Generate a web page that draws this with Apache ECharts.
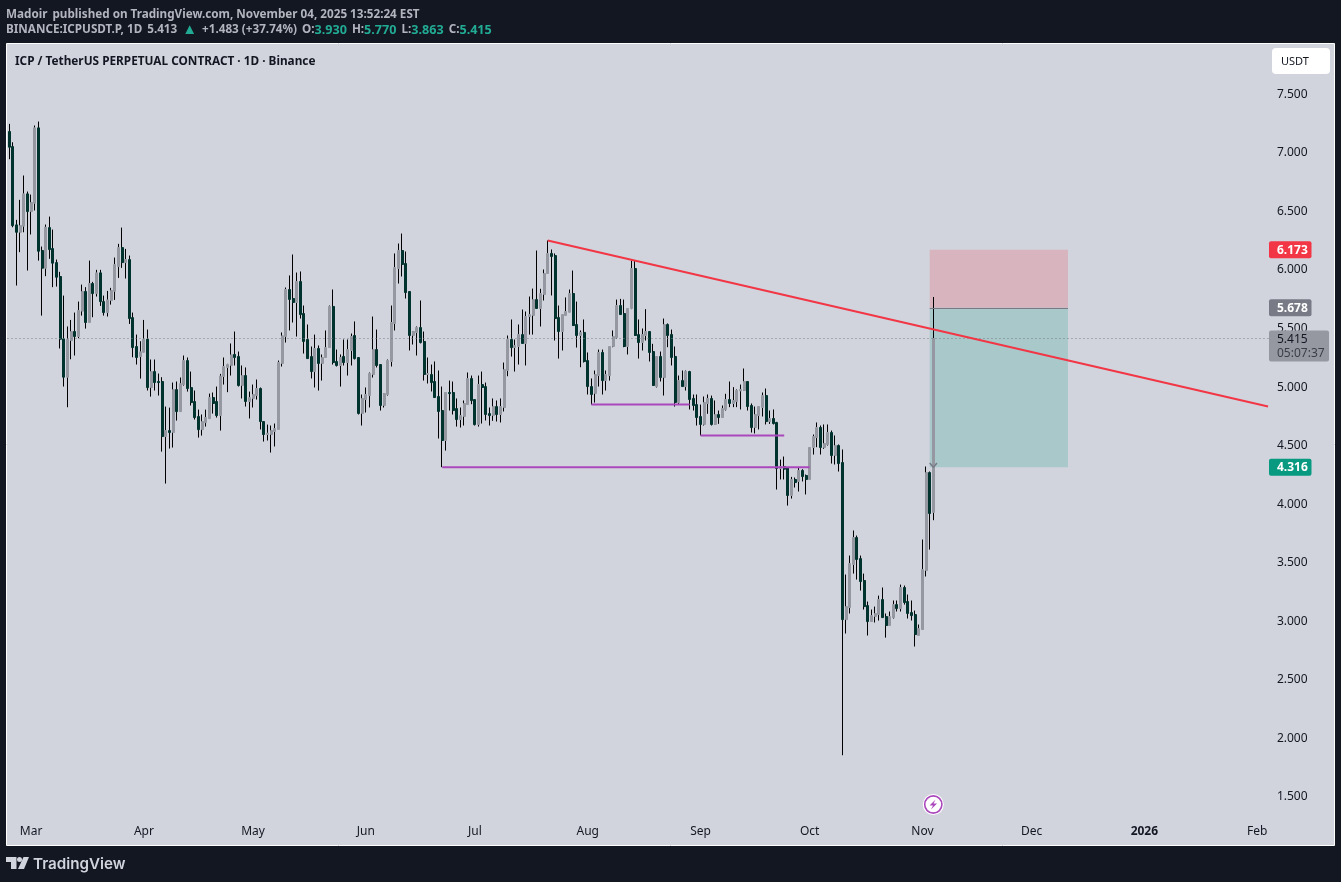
<!DOCTYPE html>
<html>
<head>
<meta charset="utf-8">
<title>ICPUSDT.P 1D</title>
<style>
    html, body { margin: 0; padding: 0; background: #131722; }
    #chart { width: 1341px; height: 882px; }
</style>
<script src="https://cdn.jsdelivr.net/npm/echarts@6/dist/echarts.min.js"></script>
</head>
<body>
<div id="chart"></div>
<script>
// daily candles, 23 Feb 2025 to 4 Nov 2025
var opens = [
    7.184,7.055,6.386,6.323,6.375,6.651,6.500,6.571,7.215,6.167,
    6.016,6.363,6.184,6.064,5.945,5.412,5.085,5.398,5.475,5.432,
    5.649,5.817,5.552,5.885,5.799,5.976,5.731,5.637,5.740,5.819,
    6.030,6.192,6.064,6.090,5.594,5.347,5.261,5.298,5.409,4.996,
    5.133,5.048,5.048,4.578,4.629,4.612,4.979,4.791,5.022,5.227,
    4.996,4.877,4.749,4.637,4.697,4.731,4.911,4.877,4.757,5.091,
    5.168,5.185,5.279,5.262,5.014,5.099,4.877,4.903,4.928,4.988,
    4.706,4.595,4.595,4.621,4.638,5.202,5.432,5.834,5.757,5.723,
    5.902,5.629,5.407,5.261,5.133,5.330,5.202,5.253,5.338,5.689,
    5.219,5.185,5.262,5.210,5.313,5.441,5.253,4.775,4.894,4.928,
    5.108,5.321,5.193,4.843,4.937,5.219,5.543,6.013,6.167,6.056,
    5.817,5.441,5.467,5.509,5.390,5.108,5.108,5.048,4.920,4.800,
    4.544,4.954,4.954,4.817,4.723,4.749,4.851,5.073,4.894,4.680,
    5.022,5.005,4.774,4.757,4.834,4.766,4.826,5.142,5.407,5.338,
    5.347,5.449,5.373,5.603,5.612,5.748,5.672,5.791,5.971,6.142,
    6.124,5.595,5.475,5.612,5.640,5.800,5.535,5.441,5.467,5.227,
    5.005,4.945,5.099,5.296,5.056,5.099,5.347,5.424,5.697,5.629,
    5.347,5.672,6.013,5.449,5.381,5.441,5.475,5.304,5.005,5.262,
    5.082,5.535,5.450,5.262,4.869,5.056,5.005,5.133,4.903,4.851,
    4.749,4.681,4.860,4.903,4.681,4.766,4.740,4.809,4.894,4.860,
    4.877,4.968,4.971,5.048,4.843,4.655,4.757,4.826,4.928,4.706,
    4.732,4.698,4.305,4.322,4.310,4.074,4.211,4.194,4.288,4.245,
    4.211,4.484,4.569,4.655,4.484,4.510,4.612,4.416,4.501,4.356,
    3.014,3.117,3.484,3.715,3.535,3.348,3.134,2.997,3.040,3.057,
    3.185,3.040,2.963,3.031,3.142,3.108,3.288,3.168,3.074,3.057,
    2.878,2.929,3.433,4.270,3.930
];
var closes = [
    7.050,6.380,6.323,6.380,6.651,6.500,6.577,7.215,6.161,6.016,
    6.366,6.175,6.059,5.939,5.409,5.085,5.409,5.475,5.432,5.654,
    5.817,5.552,5.885,5.799,5.976,5.731,5.637,5.745,5.825,6.047,
    6.192,6.064,6.090,5.586,5.338,5.253,5.301,5.409,4.996,5.133,
    5.039,5.039,4.578,4.629,4.612,4.979,4.791,5.030,5.227,4.988,
    4.868,4.740,4.637,4.706,4.740,4.911,4.860,4.757,5.094,5.176,
    5.193,5.276,5.253,5.014,5.099,4.877,4.911,4.937,4.988,4.706,
    4.595,4.606,4.629,4.646,5.210,5.438,5.834,5.749,5.723,5.902,
    5.620,5.390,5.244,5.133,5.330,5.202,5.253,5.338,5.689,5.210,
    5.185,5.253,5.210,5.321,5.432,5.244,4.775,4.903,4.937,5.116,
    5.321,5.185,4.843,4.945,5.227,5.552,6.022,6.167,6.048,5.808,
    5.441,5.475,5.509,5.381,5.108,5.116,5.039,4.911,4.792,4.544,
    4.954,4.945,4.800,4.723,4.757,4.860,5.073,4.885,4.680,5.022,
    4.997,4.766,4.757,4.834,4.766,4.834,5.150,5.407,5.338,5.355,
    5.449,5.373,5.603,5.620,5.748,5.672,5.800,5.971,6.142,6.116,
    5.586,5.475,5.620,5.646,5.800,5.526,5.441,5.467,5.219,5.005,
    4.937,5.108,5.296,5.056,5.108,5.347,5.432,5.697,5.620,5.347,
    5.672,6.013,5.441,5.381,5.449,5.475,5.296,5.014,5.262,5.082,
    5.535,5.441,5.253,4.869,5.056,5.005,5.133,4.894,4.843,4.740,
    4.681,4.869,4.903,4.681,4.766,4.740,4.817,4.894,4.860,4.886,
    4.971,4.980,5.048,4.834,4.655,4.766,4.834,4.928,4.706,4.732,
    4.689,4.305,4.322,4.299,4.074,4.211,4.185,4.288,4.236,4.211,
    4.484,4.578,4.655,4.484,4.518,4.612,4.416,4.501,4.347,3.014,
    3.125,3.493,3.715,3.527,3.339,3.125,2.997,3.048,3.066,3.185,
    3.031,2.963,3.040,3.142,3.108,3.288,3.160,3.066,3.048,2.886,
    2.937,3.442,4.270,3.920,5.415
];
var highs = [
    7.249,7.092,6.429,6.600,6.808,6.671,6.645,7.235,7.269,6.201,
    6.389,6.457,6.346,6.090,5.985,5.782,5.518,5.574,5.637,5.731,
    5.876,5.854,6.081,5.899,6.002,6.002,5.782,5.822,5.848,6.107,
    6.224,6.363,6.181,6.124,5.637,5.449,5.392,5.574,5.492,5.236,
    5.236,5.116,5.085,4.834,4.825,5.039,5.048,5.082,5.270,5.253,
    5.133,4.971,4.808,4.766,4.808,4.945,4.954,5.005,5.113,5.253,
    5.199,5.373,5.475,5.304,5.185,5.168,4.962,5.022,5.065,4.997,
    4.706,4.680,4.672,4.689,5.227,5.467,5.851,5.954,6.133,5.979,
    5.988,5.697,5.535,5.347,5.449,5.356,5.279,5.484,5.697,5.834,
    5.321,5.279,5.407,5.407,5.458,5.561,5.253,4.937,4.997,5.125,
    5.603,5.492,5.193,4.945,5.236,5.697,6.142,6.227,6.312,6.159,
    5.817,5.475,5.518,5.740,5.475,5.253,5.193,5.219,5.142,5.005,
    4.954,5.056,5.048,4.903,4.826,4.886,5.125,5.099,4.894,5.099,
    5.133,5.039,4.826,4.903,4.886,4.903,5.210,5.441,5.578,5.407,
    5.535,5.663,5.646,5.774,5.842,6.167,5.840,6.005,6.253,6.176,
    6.142,5.697,5.620,5.766,5.834,5.996,5.731,5.484,5.578,5.296,
    5.074,5.142,5.321,5.321,5.142,5.347,5.484,5.748,5.754,5.748,
    5.672,6.082,6.082,5.578,5.501,5.666,5.475,5.370,5.262,5.304,
    5.586,5.544,5.492,5.347,5.099,5.142,5.142,5.139,4.937,4.937,
    4.851,4.920,4.937,4.928,4.886,4.800,4.843,4.943,5.048,5.000,
    4.980,5.022,5.159,5.048,4.860,4.834,4.834,4.954,4.988,4.800,
    4.809,4.703,4.381,4.407,4.310,4.233,4.228,4.313,4.299,4.253,
    4.484,4.595,4.698,4.672,4.681,4.681,4.629,4.587,4.510,4.467,
    3.399,3.561,3.775,3.732,3.561,3.407,3.168,3.100,3.125,3.219,
    3.288,3.066,3.083,3.177,3.177,3.313,3.305,3.228,3.177,3.091,
    2.972,3.698,4.322,4.279,5.770
];
var lows = [
    6.947,6.366,5.868,6.153,6.323,5.996,6.304,6.509,6.081,5.611,
    5.948,6.096,5.854,5.859,5.330,5.005,4.828,5.238,5.270,5.418,
    5.611,5.500,5.552,5.597,5.774,5.694,5.611,5.603,5.705,5.745,
    5.933,6.019,5.928,5.540,5.255,5.193,5.073,5.298,4.971,4.919,
    4.971,4.928,4.449,4.176,4.475,4.484,4.714,4.791,5.013,4.962,
    4.843,4.723,4.569,4.586,4.663,4.731,4.774,4.740,4.629,5.022,
    4.957,5.099,5.185,5.005,4.903,4.834,4.732,4.826,4.894,4.638,
    4.535,4.544,4.441,4.493,4.638,5.176,5.381,5.484,5.552,5.432,
    5.586,5.287,5.244,5.074,4.997,4.971,5.056,5.253,5.336,5.193,
    5.176,5.005,5.185,5.099,5.185,5.236,4.766,4.672,4.783,4.826,
    5.082,5.168,4.800,4.826,4.928,5.176,5.484,5.885,5.945,5.757,
    5.313,5.364,5.270,5.373,5.056,5.031,4.963,4.911,4.561,4.316,
    4.458,4.800,4.766,4.663,4.655,4.672,4.851,4.854,4.672,4.663,
    4.689,4.715,4.672,4.712,4.706,4.698,4.792,5.093,5.261,5.133,
    5.193,5.370,5.185,5.449,5.449,5.669,5.518,5.740,5.968,5.783,
    5.398,5.244,5.313,5.612,5.640,5.526,5.338,5.170,5.210,4.937,
    4.851,4.868,5.005,4.937,4.971,5.056,5.341,5.415,5.620,5.341,
    5.279,5.666,5.441,5.244,5.313,5.398,5.219,5.014,4.997,5.048,
    4.928,5.341,5.185,4.834,4.851,5.005,4.971,4.809,4.800,4.672,
    4.587,4.672,4.772,4.672,4.681,4.686,4.738,4.800,4.829,4.829,
    4.829,4.809,4.971,4.800,4.612,4.604,4.638,4.749,4.681,4.686,
    4.681,4.125,4.211,4.211,3.988,4.048,4.142,4.108,4.194,4.083,
    4.211,4.424,4.487,4.424,4.473,4.501,4.347,4.339,4.279,1.855,
    2.895,3.066,3.407,3.356,3.262,3.100,2.878,2.997,2.989,3.006,
    3.031,2.860,2.963,3.023,3.083,3.083,3.142,3.023,3.006,2.784,
    2.878,2.929,3.382,3.612,3.863
];

var priceTicks = [1.5, 2, 2.5, 3, 3.5, 4, 4.5, 5, 5.5, 6, 6.5, 7, 7.5];
var monthTicks = {
    '2025-03-01': 'Mar', '2025-04-01': 'Apr', '2025-05-01': 'May', '2025-06-01': 'Jun',
    '2025-07-01': 'Jul', '2025-08-01': 'Aug', '2025-09-01': 'Sep', '2025-10-01': 'Oct',
    '2025-11-01': 'Nov', '2025-12-01': 'Dec', '2026-01-01': '2026', '2026-02-01': 'Feb'
};

// drawings on the chart, as [date, price]
var trendLine = [['2025-07-21', 6.253], ['2026-02-04', 4.834]];
var supportLow = [['2025-06-22', 4.316], ['2025-10-01', 4.316]];
var supportMid = [['2025-09-01', 4.587], ['2025-09-24', 4.587]];
var supportHigh = [['2025-08-02', 4.852], ['2025-08-29', 4.852]];
var positionStart = '2025-11-03', positionEnd = '2025-12-11';
var stopPrice = 6.173, entryPrice = 5.678, targetPrice = 4.316, lastPrice = 5.415;
var arrowHead = [['2025-11-03', 4.352], ['2025-11-04', 4.316], ['2025-11-05', 4.352]];

var axisColor = '#131722', upColor = '#9598a1', downColor = '#00332e', wickColor = '#000000';
var fontName = '"Noto Sans", sans-serif';

// categories run on past the last candle, the right side of the chart is empty
var dates = [];
for (var i = 0; i < 347; i++) {
    dates.push(new Date(Date.UTC(2025, 1, 23 + i)).toISOString().slice(0, 10));
}

// a candlestick series has one colour for wick and body, so draw them as two series
var wickData = [], bodyData = [];
for (var k = 0; k < opens.length; k++) {
    wickData.push([opens[k], closes[k], lows[k], highs[k]]);
    bodyData.push([opens[k], closes[k], Math.min(opens[k], closes[k]), Math.max(opens[k], closes[k])]);
}

var priceTags = [
    { price: stopPrice, fill: '#f23645' },
    { price: entryPrice, fill: '#787b86' },
    { price: targetPrice, fill: '#089981' }
];

var renderTag = function(params, api) {
    var tag = priceTags[params.dataIndex];
    var y = api.coord([dates[0], api.value(1)])[1];
    return {
        type: 'group',
        children: [{
            type: 'rect',
            shape: { x: 1269, y: y - 8.5, width: 42.5, height: 17, r: 2 },
            style: { fill: tag.fill }
        }, {
            type: 'text',
            style: {
                x: 1277, y: y + 0.5, text: tag.price.toFixed(3), fill: '#ffffff',
                font: 'bold 12px ' + fontName, verticalAlign: 'middle'
            }
        }]
    };
};

var renderLastTag = function(params, api) {
    var y = api.coord([dates[0], api.value(1)])[1];
    return {
        type: 'group',
        children: [{
            type: 'rect',
            shape: { x: 1269, y: y - 8, width: 60, height: 31, r: 2 },
            style: { fill: '#9598a1' }
        }, {
            type: 'text',
            style: {
                x: 1277, y: y + 1, text: lastPrice.toFixed(3), fill: axisColor,
                font: '12px ' + fontName, verticalAlign: 'middle'
            }
        }, {
            type: 'text',
            style: {
                x: 1277, y: y + 15, text: '05:07:37', fill: '#3b3e47',
                font: '12px ' + fontName, verticalAlign: 'middle'
            }
        }]
    };
};

var segment = function(name, data, color, width) {
    return {
        name: name,
        type: 'line',
        data: data,
        symbol: 'none',
        silent: true,
        z: 5,
        lineStyle: { color: color, width: width }
    };
};

var headerRich = {
    b: { color: '#b2b5be', fontWeight: 'bold', fontSize: 11.7, fontFamily: fontName },
    r: { color: '#b2b5be', fontSize: 11.7, fontFamily: fontName },
    t: { color: '#22ab94', fontSize: 12.6, fontFamily: fontName },
    a: { color: '#22ab94', fontSize: 15, fontFamily: fontName }
};

var chart = echarts.init(document.getElementById('chart'));
chart.setOption({
    animation: false,
    backgroundColor: '#131722',
    title: [{
        left: 6, top: 6, padding: 0,
        text: '{b|Madoir} {r|published on TradingView.com, November 04, 2025 13:52:24 EST}',
        textStyle: { rich: headerRich }
    }, {
        left: 6, top: 21, padding: 0,
        text: '{b|BINANCE:ICPUSDT.P, 1D} {r|5.413} {a|▲} {r|+1.483 (+37.74%)} {b|O:}{t|3.930} {b|H:}{t|5.770} {b|L:}{t|3.863} {b|C:}{t|5.415}',
        textStyle: { rich: headerRich }
    }, {
        left: 15, top: 56, padding: 0,
        text: 'ICP / TetherUS PERPETUAL CONTRACT · 1D · Binance',
        textStyle: { color: axisColor, fontSize: 11.8, fontWeight: 'bold', fontFamily: fontName }
    }],
    grid: { left: 7.48, top: 44.5, width: 1262.4, height: 776 },
    xAxis: {
        type: 'category',
        data: dates,
        boundaryGap: true,
        axisLine: { show: false },
        axisTick: { show: false },
        splitLine: { show: false },
        axisLabel: {
            margin: 5,
            color: axisColor,
            fontSize: 12,
            fontFamily: fontName,
            interval: function(index, value) {
                return monthTicks.hasOwnProperty(value);
            },
            formatter: function(value) {
                var text = monthTicks[value] || '';
                return text === '2026' ? '{y|2026}' : text;
            },
            rich: { y: { fontWeight: 'bold', fontSize: 12, color: axisColor, fontFamily: fontName } }
        }
    },
    yAxis: {
        type: 'value',
        position: 'right',
        min: 1.2975,
        max: 7.9272,
        axisLine: { show: false },
        axisTick: { show: false },
        splitLine: { show: false },
        axisLabel: {
            customValues: priceTicks,
            margin: 7,
            padding: [4, 0, 0, 0],
            color: axisColor,
            fontSize: 12,
            fontFamily: fontName,
            formatter: function(value) {
                return value.toFixed(3);
            }
        }
    },
    series: [{
        name: 'zones',
        type: 'line',
        data: [],
        silent: true,
        z: 1,
        markArea: {
            silent: true,
            data: [
                [{ xAxis: positionStart, yAxis: stopPrice, itemStyle: { color: 'rgba(242,54,69,0.2)' } },
                    { xAxis: positionEnd, yAxis: entryPrice }],
                [{ xAxis: positionStart, yAxis: entryPrice, itemStyle: { color: 'rgba(8,153,129,0.2)' } },
                    { xAxis: positionEnd, yAxis: targetPrice }]
            ]
        },
        markLine: {
            silent: true,
            symbol: 'none',
            label: { show: false },
            data: [
                { yAxis: lastPrice, lineStyle: { color: '#787b86', width: 1, type: [1, 3] } },
                [{ xAxis: positionStart, yAxis: entryPrice, lineStyle: { color: '#787b86', width: 1, type: 'solid' } },
                    { xAxis: positionEnd, yAxis: entryPrice }]
            ]
        }
    }, {
        name: 'wicks',
        type: 'candlestick',
        data: wickData,
        barWidth: 1,
        silent: true,
        z: 2,
        itemStyle: { color: wickColor, color0: wickColor, borderColor: wickColor, borderColor0: wickColor, borderWidth: 1 }
    }, {
        name: 'bodies',
        type: 'candlestick',
        data: bodyData,
        barWidth: 2.5,
        silent: true,
        z: 3,
        itemStyle: { color: upColor, color0: downColor, borderColor: upColor, borderColor0: downColor, borderWidth: 1 }
    },
    segment('arrow head', arrowHead, '#787b86', 1.5),
    segment('support low', supportLow, '#ab47bc', 2),
    segment('support mid', supportMid, '#ab47bc', 2),
    segment('support high', supportHigh, '#ab47bc', 2),
    segment('trend', trendLine, '#f23645', 2),
    {
        name: 'price tags',
        type: 'custom',
        silent: true,
        z: 8,
        renderItem: renderTag,
        data: priceTags.map(function(tag) { return [dates[0], tag.price]; })
    }, {
        name: 'last price',
        type: 'custom',
        silent: true,
        z: 9,
        renderItem: renderLastTag,
        data: [[dates[0], lastPrice]]
    }],
    graphic: [{
        type: 'rect', z: -10, silent: true,
        shape: { x: 6.5, y: 43.5, width: 1328, height: 802 },
        style: { fill: '#d1d4dc', stroke: '#ffffff', lineWidth: 1 }
    }, {
        type: 'rect', z: 20, silent: true,
        shape: { x: 1272, y: 48, width: 58, height: 26, r: 4 },
        style: { fill: '#ffffff' }
    }, {
        type: 'text', z: 21, silent: true,
        style: { x: 1281, y: 61.5, text: 'USDT', fill: axisColor, font: '11px ' + fontName, verticalAlign: 'middle' }
    }, {
        type: 'circle', z: 20, silent: true,
        shape: { cx: 933.3, cy: 804.5, r: 10.5 },
        style: { fill: '#ffffff' }
    }, {
        type: 'circle', z: 21, silent: true,
        shape: { cx: 933.3, cy: 804.5, r: 8.6 },
        style: { fill: '#ffffff', stroke: '#ab47bc', lineWidth: 1.6 }
    }, {
        type: 'polygon', z: 22, silent: true,
        shape: { points: [[935.5, 799.5], [929.5, 805.5], [933, 805.5], [931, 809.5], [937, 803.5], [933.5, 803.5]] },
        style: { fill: '#ab47bc' }
    }, {
        // TradingView logo
        type: 'polygon', z: 20, silent: true,
        shape: { points: [[6, 857], [16.5, 857], [16.5, 869], [11, 869], [11, 862], [6, 862]] },
        style: { fill: '#d1d4dc' }
    }, {
        type: 'circle', z: 20, silent: true,
        shape: { cx: 19.5, cy: 859.5, r: 2.5 },
        style: { fill: '#d1d4dc' }
    }, {
        type: 'polygon', z: 20, silent: true,
        shape: { points: [[23.5, 857], [29, 857], [24, 869], [18, 869]] },
        style: { fill: '#d1d4dc' }
    }, {
        type: 'text', z: 20, silent: true,
        style: { x: 33, y: 864, text: 'TradingView', fill: '#d1d4dc', font: '600 15.2px Inter, sans-serif', verticalAlign: 'middle' }
    }]
});
</script>
</body>
</html>
